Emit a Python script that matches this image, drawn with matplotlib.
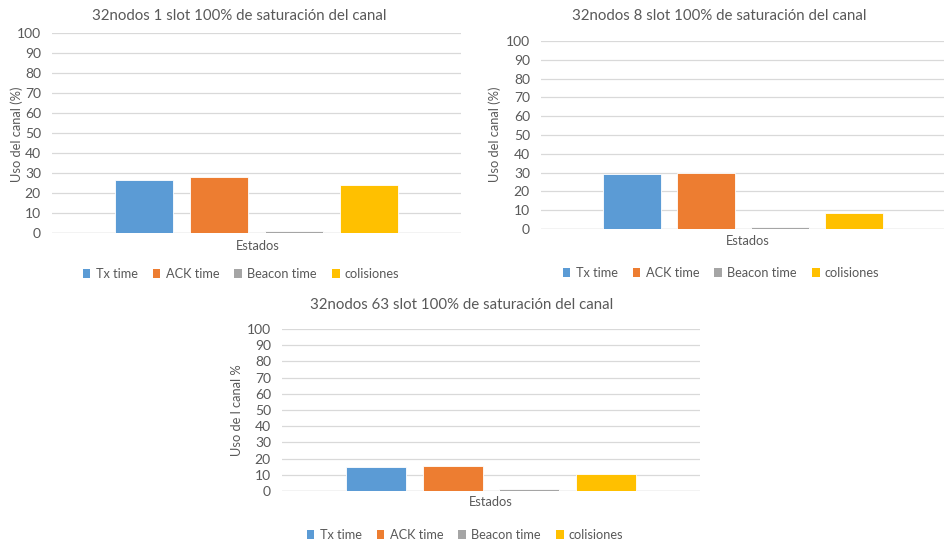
import matplotlib.pyplot as plt
from matplotlib.patches import Patch

plt.rcParams["font.family"] = ["Lato", "DejaVu Sans"]

series = ["Tx time", "ACK time", "Beacon time", "colisiones"]
colors = ["#5B9BD5", "#ED7D31", "#A5A5A5", "#FFC000"]

titles = [
    "32nodos 1 slot 100% de saturación del canal",
    "32nodos 8 slot 100% de saturación del canal",
    "32nodos 63 slot 100% de saturación del canal",
]
ylabels = ["Uso del canal (%)", "Uso del canal (%)", "Uso de l canal %"]
category = "Estados"

slot1 = [26.7, 28.0, 1.0, 24.0]
slot8 = [29.1, 30.0, 1.0, 8.3]
slot63 = [14.8, 15.7, 1.0, 10.3]
yticks = list(range(0, 101, 10))

W, H = 945, 543
fig = plt.figure(figsize=(W / 100, H / 100), dpi=100)

TEXT = "#595959"
GRID = "#D9D9D9"


def px_axes(left, top, right, bottom):
    return fig.add_axes([left / W, 1 - bottom / H, (right - left) / W, (bottom - top) / H])


def fig_text(x, y, s, **kw):
    fig.text(x / W, 1 - y / H, s, ha="center", va="center", color=TEXT, **kw)


def draw_panel(rect, values, title, ylabel, title_xy, ylabel_xy, cat_xy, legend_xy):
    ax = px_axes(*rect)
    step, width = 0.183, 0.143
    for i, (v, c) in enumerate(zip(values, colors)):
        ax.bar(0.5 + (i - 1.5) * step, v, width, color=c, edgecolor="white",
               linewidth=0.6, zorder=3)
    ax.set_xlim(0, 1)
    ax.set_ylim(0, 100)
    ax.set_yticks(yticks)
    ax.set_xticks([])
    ax.grid(axis="y", color=GRID, linewidth=0.9, zorder=0)
    ax.tick_params(axis="y", length=0, pad=8, labelsize=10, labelcolor=TEXT)
    for s in ax.spines.values():
        s.set_visible(False)
    ax.axhline(0, color=GRID, linewidth=1.0, zorder=1)

    fig_text(*title_xy, title, fontsize=10.8)
    fig_text(*ylabel_xy, ylabel, fontsize=9.3, rotation=90)
    fig_text(*cat_xy, category, fontsize=9.3)

    handles = [Patch(facecolor=c, label=s) for s, c in zip(series, colors)]
    fig.legend(handles=handles, loc="center", ncol=4, frameon=False,
               bbox_to_anchor=(legend_xy[0] / W, 1 - legend_xy[1] / H),
               fontsize=9.2, labelcolor=TEXT, handlelength=0.6, handleheight=0.6,
               handletextpad=0.4, columnspacing=1.2)


draw_panel((52, 33, 461, 233), slot1, titles[0], ylabels[0],
           (239, 16), (17, 134), (258, 246), (241, 274))
draw_panel((541, 41, 945, 229), slot8, titles[1], ylabels[1],
           (719, 16), (495, 134), (748, 241), (721, 273))
draw_panel((282, 329, 700, 491), slot63, titles[2], ylabels[2],
           (462, 305), (237, 410), (491, 502), (465, 535))

fig.savefig("out.png", dpi=100, facecolor="white")
